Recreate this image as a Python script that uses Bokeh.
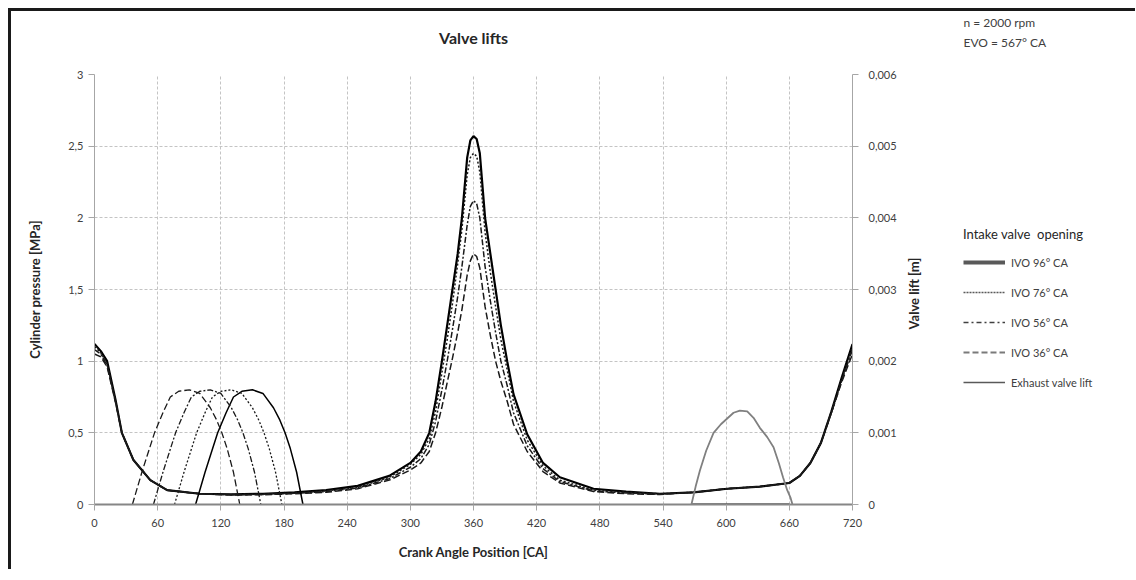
import math
from bokeh.plotting import figure
from bokeh.layouts import row
from bokeh.models import Range1d, LinearAxis, FixedTicker, Legend, LegendItem, Label, Title
from bokeh.embed import file_html
from bokeh.resources import INLINE

# ---------------- data ----------------
crank_angle = [0, 6, 12, 20, 26, 37, 53, 69, 100, 130, 160, 190, 220, 250, 280, 300, 310,
               318, 324, 330, 335, 340, 345, 349, 354, 357, 360, 363, 366, 371, 376, 381,
               386, 392, 398, 411, 426, 442, 474, 505, 537, 569, 601, 632, 660, 670, 680,
               690, 700, 710, 720]

p_ivo96 = [1.12, 1.07, 1.0, 0.73, 0.5, 0.31, 0.17, 0.1, 0.075, 0.07, 0.075, 0.085, 0.1, 0.13,
           0.2, 0.29, 0.37, 0.5, 0.72, 1.0, 1.25, 1.5, 1.75, 2.0, 2.42, 2.54, 2.57, 2.55, 2.45,
           2.0, 1.75, 1.5, 1.25, 1.0, 0.77, 0.49, 0.29, 0.19, 0.11, 0.09, 0.075, 0.085, 0.11,
           0.125, 0.15, 0.2, 0.29, 0.43, 0.65, 0.89, 1.12]
p_ivo76 = [1.1, 1.06, 0.98, 0.72, 0.5, 0.31, 0.17, 0.1, 0.075, 0.07, 0.072, 0.08, 0.095, 0.12,
           0.19, 0.28, 0.35, 0.46, 0.65, 0.92, 1.15, 1.4, 1.68, 1.92, 2.3, 2.42, 2.45, 2.43,
           2.32, 1.9, 1.62, 1.38, 1.15, 0.94, 0.72, 0.45, 0.27, 0.17, 0.1, 0.085, 0.075, 0.085,
           0.11, 0.125, 0.15, 0.2, 0.29, 0.43, 0.65, 0.88, 1.1]
p_ivo56 = [1.08, 1.05, 0.97, 0.72, 0.5, 0.31, 0.17, 0.1, 0.075, 0.068, 0.07, 0.078, 0.09, 0.115,
           0.18, 0.26, 0.32, 0.42, 0.58, 0.8, 1.0, 1.22, 1.45, 1.66, 1.95, 2.08, 2.12, 2.1, 2.0,
           1.66, 1.42, 1.2, 1.0, 0.83, 0.64, 0.41, 0.25, 0.16, 0.095, 0.08, 0.072, 0.085, 0.11,
           0.125, 0.15, 0.2, 0.29, 0.43, 0.64, 0.87, 1.08]
p_ivo36 = [1.05, 1.03, 0.96, 0.71, 0.5, 0.31, 0.17, 0.1, 0.075, 0.066, 0.068, 0.075, 0.085, 0.11,
           0.17, 0.24, 0.29, 0.37, 0.5, 0.68, 0.85, 1.02, 1.2, 1.36, 1.6, 1.7, 1.75, 1.73, 1.65,
           1.38, 1.18, 1.0, 0.86, 0.72, 0.56, 0.37, 0.23, 0.15, 0.09, 0.075, 0.07, 0.085, 0.11,
           0.125, 0.15, 0.2, 0.29, 0.43, 0.64, 0.86, 1.05]

intake_lift = [0, 0.0002, 0.00045, 0.00068, 0.001, 0.00128, 0.0015, 0.00158, 0.0016, 0.00155,
               0.00135, 0.00118, 0.001, 0.00078, 0.00045, 0]
ca_lift96 = [96, 100, 105, 110, 117, 125, 132, 140, 150, 160, 170, 176, 181, 186, 192, 198]
ca_lift76 = [76, 80, 85, 90, 97, 105, 112, 120, 130, 140, 150, 156, 161, 166, 172, 178]
ca_lift56 = [56, 60, 65, 70, 77, 85, 92, 100, 110, 120, 130, 136, 141, 146, 152, 158]
ca_lift36 = [36, 40, 45, 50, 57, 65, 72, 80, 90, 100, 110, 116, 121, 126, 132, 138]

ca_exhaust = [567, 571, 575, 581, 588, 595, 601, 607, 613, 620, 626, 632, 639, 645, 650, 654,
              658, 661, 663]
exhaust_lift = [0, 0.00025, 0.00047, 0.00075, 0.001, 0.00112, 0.0012, 0.00128, 0.00131, 0.0013,
                0.00121, 0.00107, 0.00094, 0.0008, 0.00058, 0.00038, 0.0002, 0.0001, 0]
ca_closed = [567, 660]
closed_lift = [0, 0]

x_ticks = [0, 60, 120, 180, 240, 300, 360, 420, 480, 540, 600, 660, 720]
p_ticks = [0, 0.5, 1, 1.5, 2, 2.5, 3]
p_tick_labels = ["0", "0,5", "1", "1,5", "2", "2,5", "3"]
lift_ticks = [0, 0.001, 0.002, 0.003, 0.004, 0.005, 0.006]
lift_tick_labels = ["0", "0,001", "0,002", "0,003", "0,004", "0,005", "0,006"]

legend_title = "Intake valve  opening"
legend_labels = ["IVO 96° CA", "IVO 76° CA", "IVO 56° CA", "IVO 36° CA", "Exhaust valve lift"]
notes = ["n = 2000 rpm", "EVO = 567° CA"]

FONT = "Lato"
TXT = "#404040"
H = 558
W_MAIN = 891
W_SIDE = 233
TOP, BOTTOM = 63, 65
FRAME_H = H - TOP - BOTTOM


def spacer(standoff):
    return Title(text=" ", text_font_size="2px", standoff=standoff, vertical_align="middle")


# ---------------- main chart ----------------
p = figure(width=W_MAIN, height=H, output_backend="svg", toolbar_location=None, title=None,
           x_range=Range1d(0, 720), y_range=Range1d(0, 3),
           min_border_left=83, min_border_top=TOP, min_border_right=50, min_border_bottom=BOTTOM)
p.outline_line_color = None
p.extra_y_ranges = {"lift": Range1d(0, 0.006)}

p.add_layout(spacer(23), "above")
p.add_layout(Title(text="Valve lifts", align="center", vertical_align="middle", standoff=0,
                   text_font=FONT, text_font_size="16px", text_font_style="bold",
                   text_color="#262626"), "above")

p.xaxis.ticker = FixedTicker(ticks=x_ticks)
p.yaxis.ticker = FixedTicker(ticks=p_ticks)
p.yaxis.major_label_overrides = {t: l for t, l in zip(p_ticks, p_tick_labels)}
p.xaxis.axis_label = "Crank Angle Position [CA]"
p.yaxis.axis_label = "Cylinder pressure [MPa]"

ax2 = LinearAxis(y_range_name="lift", ticker=FixedTicker(ticks=lift_ticks))
ax2.major_label_overrides = {t: l for t, l in zip(lift_ticks, lift_tick_labels)}

for ax in [p.xaxis[0], p.yaxis[0], ax2]:
    ax.major_label_text_font = FONT
    ax.major_label_text_font_size = "11px"
    ax.major_label_text_color = TXT
    ax.axis_label_text_font = FONT
    ax.axis_label_text_font_size = "13px"
    ax.axis_label_text_font_style = "bold"
    ax.axis_label_text_color = "#262626"
    ax.minor_tick_line_color = None
    ax.major_tick_in = 0
    ax.major_tick_out = 6
    ax.major_tick_line_color = "#a6a6a6"
    ax.axis_line_color = "#a6a6a6"
    ax.major_label_standoff = 8

p.xaxis.axis_line_color = "#868686"
p.xaxis.axis_line_width = 2
p.xaxis.axis_label_standoff = 14
p.yaxis.major_label_standoff = 5
p.yaxis.axis_label_standoff = 22
ax2.major_label_standoff = 10
p.add_layout(ax2, "right")

p.xgrid.ticker = FixedTicker(ticks=x_ticks)
p.ygrid.ticker = FixedTicker(ticks=p_ticks)
for g in [p.xgrid[0], p.ygrid[0]]:
    g.grid_line_color = "#c4c4c4"
    g.grid_line_dash = "3 2"
    g.grid_line_width = 1

p.line(crank_angle, p_ivo96, line_color="#000000", line_width=2.2)
p.line(crank_angle, p_ivo76, line_color="#1a1a1a", line_width=1.5, line_dash="2 2")
p.line(crank_angle, p_ivo56, line_color="#1a1a1a", line_width=1.5, line_dash="6 2 2 2")
p.line(crank_angle, p_ivo36, line_color="#1a1a1a", line_width=1.5, line_dash="7 3")

p.line(ca_lift96, intake_lift, y_range_name="lift", line_color="#000000", line_width=1.5)
p.line(ca_lift76, intake_lift, y_range_name="lift", line_color="#1a1a1a", line_width=1.3, line_dash="2 2")
p.line(ca_lift56, intake_lift, y_range_name="lift", line_color="#1a1a1a", line_width=1.3, line_dash="6 2 2 2")
p.line(ca_lift36, intake_lift, y_range_name="lift", line_color="#1a1a1a", line_width=1.3, line_dash="7 3")
p.line(ca_closed, closed_lift, y_range_name="lift", line_color="#000000", line_width=2)
p.line(ca_exhaust, exhaust_lift, y_range_name="lift", line_color="#808080", line_width=1.8)

# ---------------- side panel: right axis title, notes, legend ----------------
s = figure(width=W_SIDE, height=H, output_backend="svg", toolbar_location=None, title=None,
           x_range=Range1d(0, W_SIDE), y_range=Range1d(0, FRAME_H),
           x_axis_type=None, y_axis_type=None,
           min_border_left=0, min_border_right=0, min_border_top=TOP, min_border_bottom=BOTTOM)
s.outline_line_color = None
s.xgrid.visible = False
s.ygrid.visible = False
# legend sample lines use the real lift data, mapped to a range far outside the panel
s.extra_y_ranges = {"off": Range1d(1, 2)}

s.add_layout(spacer(17), "above")
s.add_layout(Title(text=notes[1], align="left", offset=61, vertical_align="middle", standoff=5,
                   text_font=FONT, text_font_size="12px", text_font_style="normal",
                   text_color=TXT), "above")
s.add_layout(Title(text=notes[0], align="left", offset=61, vertical_align="middle", standoff=2,
                   text_font=FONT, text_font_size="12px", text_font_style="normal",
                   text_color=TXT), "above")

s.add_layout(Label(x=11, y=211, text="Valve lift [m]", angle=math.pi / 2,
                   text_align="center", text_baseline="middle", text_font=FONT,
                   text_font_size="13px", text_font_style="bold", text_color="#262626"))

g96 = s.line(ca_lift96, intake_lift, y_range_name="off", line_color="#595959", line_width=4)
g76 = s.line(ca_lift76, intake_lift, y_range_name="off", line_color="#595959", line_width=1.5, line_dash="2 1")
g56 = s.line(ca_lift56, intake_lift, y_range_name="off", line_color="#404040", line_width=1.5, line_dash="5 3 2 3")
g36 = s.line(ca_lift36, intake_lift, y_range_name="off", line_color="#7a7a7a", line_width=2.2, line_dash="6 3")
gex = s.line(ca_exhaust, exhaust_lift, y_range_name="off", line_color="#595959", line_width=1.3)

legend = Legend(items=[LegendItem(label=t, renderers=[r])
                       for t, r in zip(legend_labels, [g96, g76, g56, g36, gex])],
                location=(61, 112), title=legend_title)
legend.border_line_color = None
legend.background_fill_alpha = 0
legend.padding = 0
legend.margin = 0
legend.spacing = 10
legend.glyph_height = 20
legend.glyph_width = 42
legend.label_height = 20
legend.label_standoff = 6
legend.label_text_font = FONT
legend.label_text_font_size = "11px"
legend.label_text_color = TXT
legend.title_text_font = FONT
legend.title_text_font_size = "13px"
legend.title_text_font_style = "normal"
legend.title_text_color = "#262626"
legend.title_standoff = 10
s.add_layout(legend)

layout = row(p, s)
layout.styles = {"margin-left": "8px", "margin-top": "8px",
                 "border-left": "3px solid #1a1a1a", "border-top": "3px solid #1a1a1a"}

open("out.html", "w").write(file_html(layout, INLINE))
